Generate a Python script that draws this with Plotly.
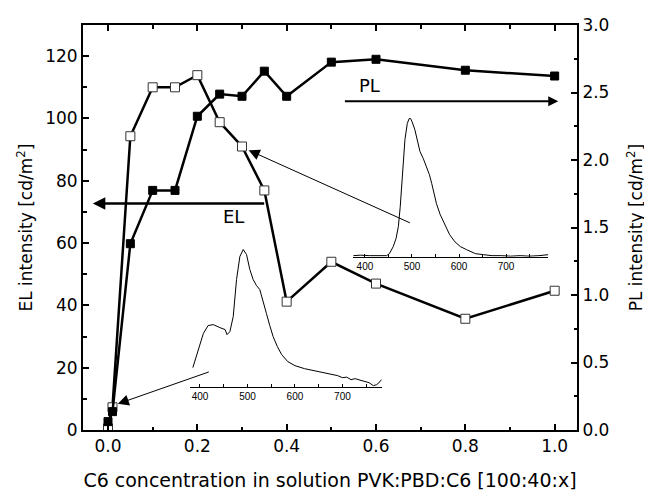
import plotly.graph_objects as go

# ---- main data ----
conc = [0.0, 0.01, 0.05, 0.1, 0.15, 0.2, 0.25, 0.3, 0.35, 0.4, 0.5, 0.6, 0.8, 1.0]
el_intensity = [0.5, 7.3, 94.3, 110.0, 110.0, 113.9, 98.8, 91.0, 76.9, 41.2, 54.0, 47.0, 35.7, 44.7]
pl_intensity = [0.062, 0.136, 1.38, 1.775, 1.775, 2.324, 2.488, 2.472, 2.658, 2.472, 2.725, 2.746, 2.665, 2.622]

# ---- inset spectra (wavelength nm, intensity a.u.) ----
el_spec_nm = [385, 396, 407, 417, 428, 442, 453, 457, 463, 470, 477, 484, 491, 498, 505, 512, 519, 526,
              533, 540, 547, 554, 563, 572, 585, 600, 620, 639, 655, 674, 690, 700, 709, 718, 727, 737,
              746, 756, 765, 772, 779, 782]
el_spec_i = [19, 37, 53, 61, 62, 59, 57, 52, 55, 70, 107, 130, 137, 132, 117, 107, 101, 97,
             86, 73, 61, 50, 40, 32, 25, 21, 18, 16, 14, 12, 11, 9, 9.5, 7, 8, 6.5,
             5, 4, 1, 2, 5, 7]
pl_spec_nm = [375, 390, 410, 430, 446, 452, 460, 466, 471, 475, 478, 482, 485, 490, 494, 497, 500, 506,
              512, 517, 524, 531, 537, 542, 552, 560, 570, 580, 591, 603, 616, 635, 652, 670, 690, 710,
              730, 750, 770, 790]
pl_spec_i = [1, 1.5, 1, 1, 1, 3, 10, 18, 30, 50, 73, 95, 117, 133, 138, 138, 135, 127,
             115, 105, 98, 90, 82, 73, 53, 42, 32, 22, 15, 10, 7, 3, 2, 1, 1, 0.5,
             1, 0.5, 1, 2]

x_ticks = [0.0, 0.2, 0.4, 0.6, 0.8, 1.0]
el_ticks = [0, 20, 40, 60, 80, 100, 120]
pl_ticks = [0.0, 0.5, 1.0, 1.5, 2.0, 2.5, 3.0]
nm_ticks = [400, 500, 600, 700]

FONT = "DejaVu Sans, Arial, sans-serif"
SMALL = "Liberation Sans, Arial, sans-serif"

fig = go.Figure()

fig.add_trace(go.Scatter(
    x=conc, y=pl_intensity, yaxis="y2", mode="lines+markers",
    line=dict(color="black", width=2.5),
    marker=dict(symbol="square", size=8, color="black", line=dict(color="black", width=1)),
    showlegend=False))
fig.add_trace(go.Scatter(
    x=conc, y=el_intensity, yaxis="y", mode="lines+markers",
    line=dict(color="black", width=2.5),
    marker=dict(symbol="square", size=9, color="white", line=dict(color="#333", width=1)),
    showlegend=False))

fig.add_trace(go.Scatter(x=el_spec_nm, y=el_spec_i, xaxis="x3", yaxis="y3", mode="lines",
                         line=dict(color="black", width=1), showlegend=False))
fig.add_trace(go.Scatter(x=pl_spec_nm, y=pl_spec_i, xaxis="x4", yaxis="y4", mode="lines",
                         line=dict(color="black", width=1), showlegend=False))

main_axis = dict(showgrid=False, zeroline=False, showline=True, linewidth=2, linecolor="black",
                 ticks="inside", ticklen=6, tickwidth=1.5, tickcolor="black", automargin=False,
                 tickfont=dict(family=FONT, size=17, color="black"))

fig.update_layout(
    width=644, height=483,
    margin=dict(l=75, r=75, t=17, b=61),
    paper_bgcolor="white", plot_bgcolor="rgba(0,0,0,0)",
    xaxis=dict(**main_axis, range=[-0.056, 1.05], tickvals=x_ticks, tickformat=".1f", mirror="ticks",
               minor=dict(dtick=0.1, tick0=0, ticks="inside", ticklen=3.5, tickwidth=1.5, tickcolor="black"),
               title=dict(text="C6 concentration in solution PVK:PBD:C6 [100:40:x]",
                          font=dict(family=FONT, size=19, color="black"), standoff=18)),
    yaxis=dict(**main_axis, range=[0, 130], tickvals=el_ticks,
               minor=dict(dtick=10, tick0=0, ticks="inside", ticklen=3.5, tickwidth=1.5, tickcolor="black"),
               title=dict(text="EL intensity [cd/m<sup>2</sup>]",
                          font=dict(family=FONT, size=17, color="black"), standoff=8)),
    yaxis2=dict(**main_axis, range=[0, 3], tickvals=pl_ticks, tickformat=".1f",
                overlaying="y", side="right",
                minor=dict(dtick=0.25, tick0=0, ticks="inside", ticklen=3.5, tickwidth=1.5, tickcolor="black"),
                title=dict(text="PL intensity [cd/m<sup>2</sup>]",
                           font=dict(family=FONT, size=17, color="black"), standoff=22)),
    xaxis3=dict(domain=[0.2166, 0.605], anchor="y3", range=[379, 783], tickvals=nm_ticks,
                showgrid=False, zeroline=False, showline=True, linewidth=1, linecolor="black",
                ticks="inside", ticklen=3, tickwidth=1, tickcolor="black", automargin=False,
                minor=dict(dtick=50, tick0=0, ticks="inside", ticklen=3, tickwidth=1, tickcolor="black"),
                tickfont=dict(family=SMALL, size=10, color="black")),
    yaxis3=dict(domain=[0.107, 0.453], anchor="x3", range=[0, 140], visible=False),
    xaxis4=dict(domain=[0.547, 0.942], anchor="y4", range=[375, 790], tickvals=nm_ticks,
                showgrid=False, zeroline=False, showline=True, linewidth=1, linecolor="black",
                ticks="inside", ticklen=3, tickwidth=1, tickcolor="black", automargin=False,
                minor=dict(dtick=50, tick0=0, ticks="inside", ticklen=3, tickwidth=1, tickcolor="black"),
                tickfont=dict(family=SMALL, size=10, color="black")),
    yaxis4=dict(domain=[0.428, 0.774], anchor="x4", range=[0, 140], visible=False),
)

# arrows (data coordinates of main x / left y axes)
arrows = [
    # (head_x, head_y, tail_x, tail_y, width, size)
    (1.008, 105.5, 0.527, 105.5, 2.0, 1.0),   # PL arrow ->
    (-0.034, 72.7, 0.353, 72.7, 2.5, 1.0),    # EL arrow <-
    (0.315, 89.8, 0.679, 66.3, 1.0, 2.2),     # to PL spectrum
    (0.022, 8.4, 0.229, 18.8, 1.0, 2.2),      # to EL spectrum
]
for hx, hy, tx, ty, w, s in arrows:
    fig.add_annotation(x=hx, y=hy, ax=tx, ay=ty, xref="x", yref="y", axref="x", ayref="y",
                       text="", showarrow=True, arrowhead=2, arrowwidth=w, arrowsize=s,
                       arrowcolor="black")

fig.add_annotation(x=0.585, y=110.5, xref="x", yref="y", text="PL", showarrow=False,
                   font=dict(family=FONT, size=18, color="black"))
fig.add_annotation(x=0.28, y=68.5, xref="x", yref="y", text="EL", showarrow=False,
                   font=dict(family=FONT, size=18, color="black"))

fig.write_html("out.html")
